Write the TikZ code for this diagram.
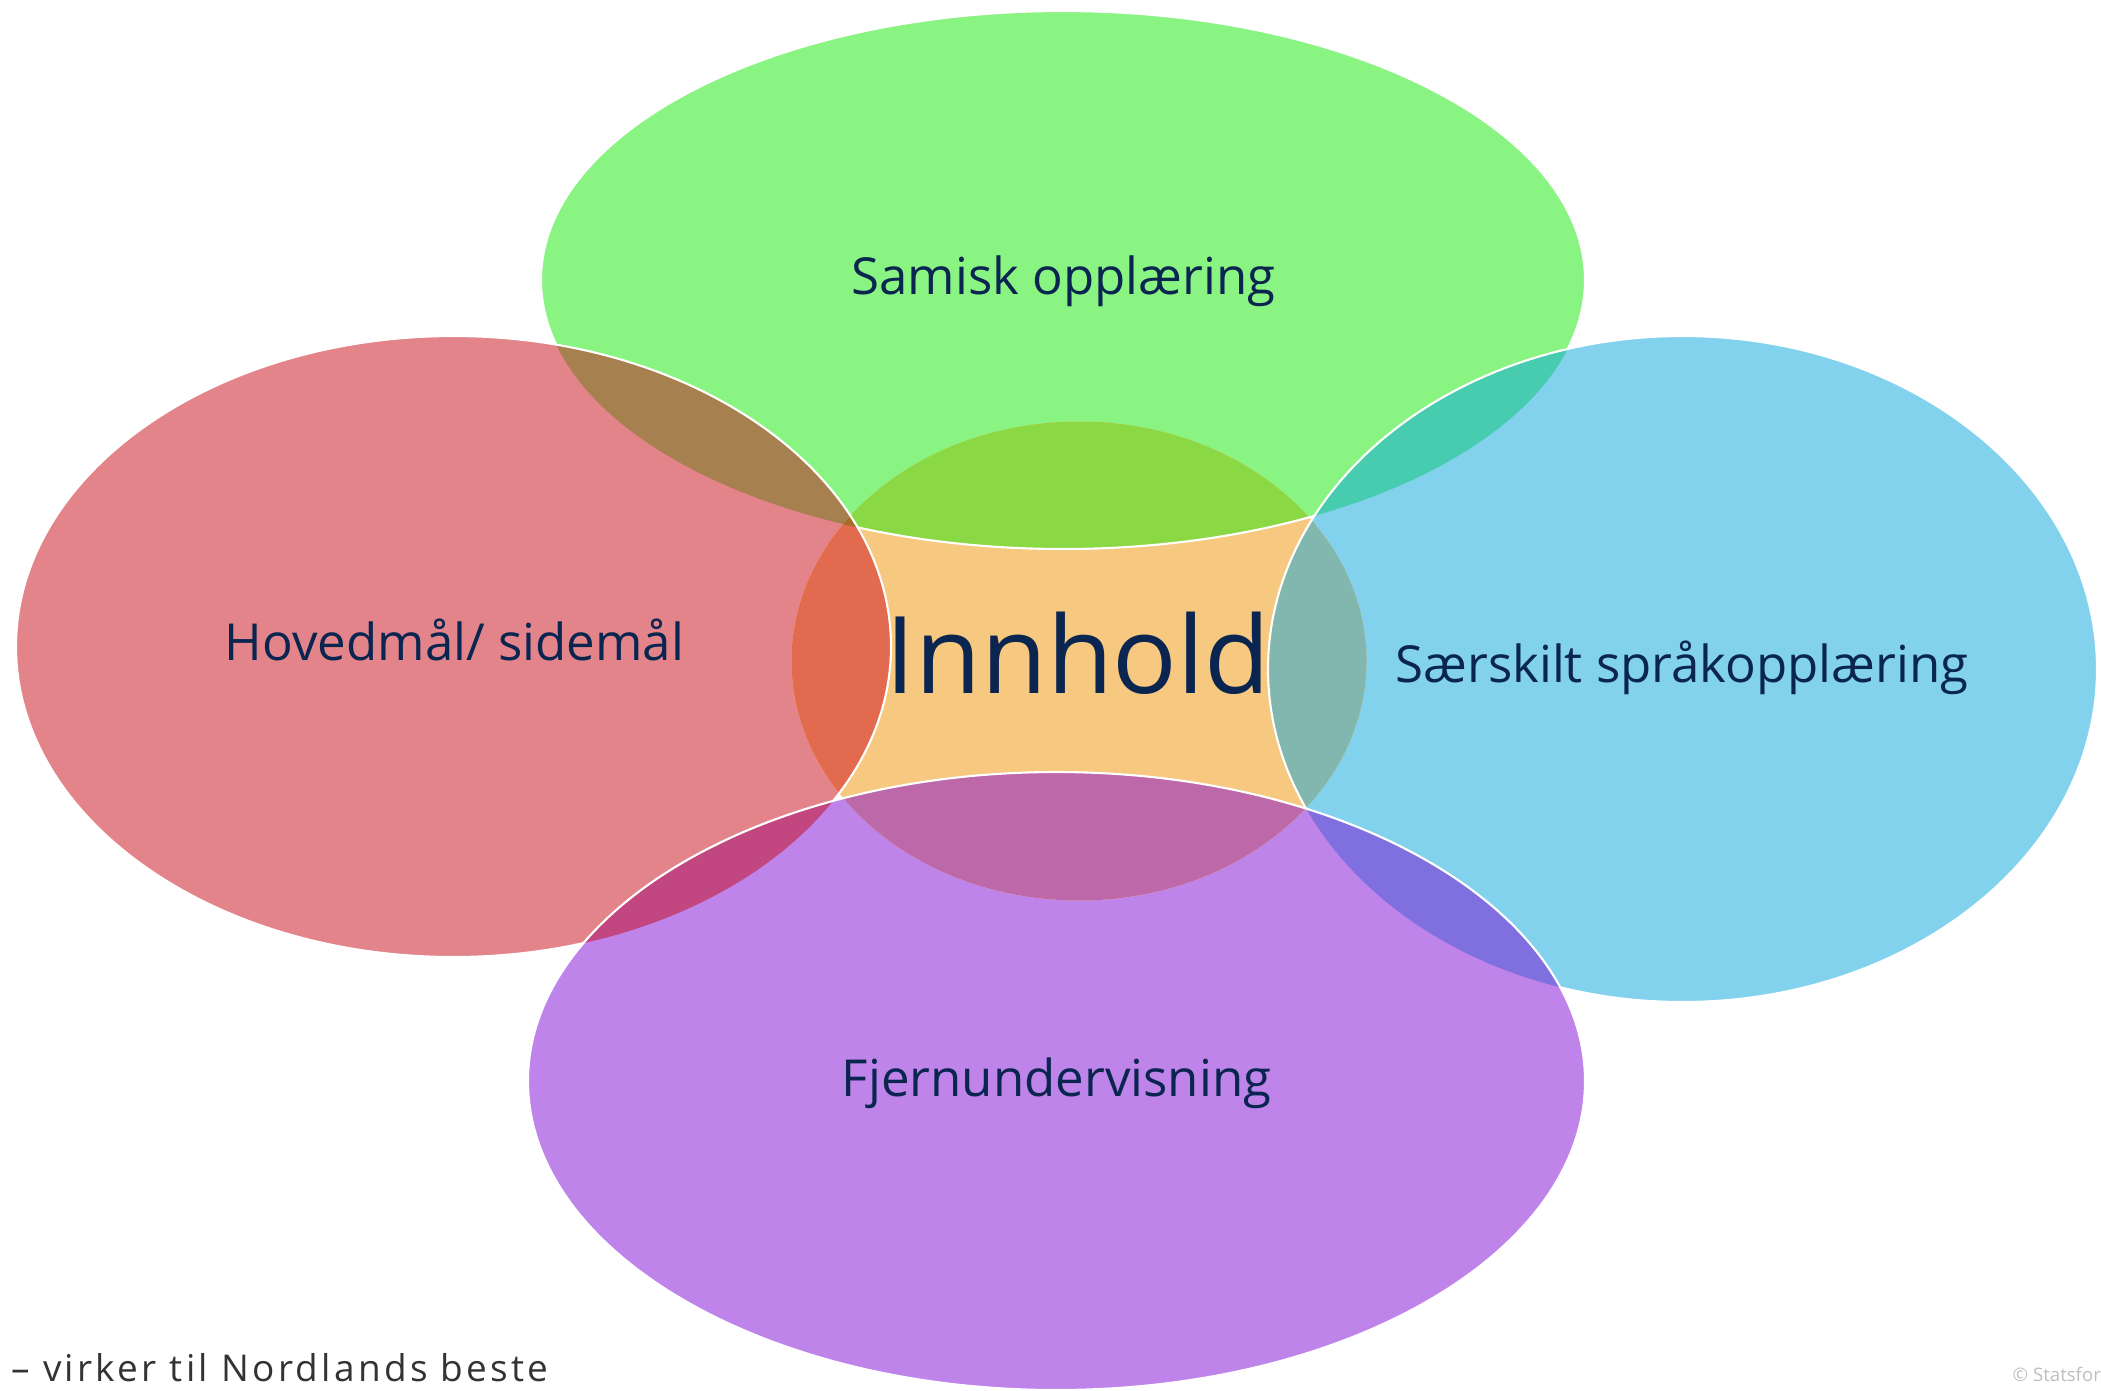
\documentclass[tikz,border=0pt]{standalone}
\usepackage{fontspec}
\setmainfont{Open Sans}
\definecolor{samiskgreen}{HTML}{8AF482}
\definecolor{hovedred}{HTML}{E3848A}
\definecolor{saerblue}{HTML}{82D2EE}
\definecolor{fjernpurple}{HTML}{BE84EA}
\definecolor{innholdorange}{HTML}{F7C880}
\definecolor{samhov}{HTML}{A7804F}
\definecolor{samsaer}{HTML}{48CCB0}
\definecolor{fjhov}{HTML}{C24680}
\definecolor{fjsaer}{HTML}{8070DF}
\definecolor{innsam}{HTML}{8AD844}
\definecolor{innhov}{HTML}{E16A4F}
\definecolor{innsaer}{HTML}{82B7B0}
\definecolor{innfj}{HTML}{BD69A9}
\definecolor{innsamhov}{HTML}{A56C28}
\definecolor{innsamsaer}{HTML}{48B86C}
\definecolor{innfjhov}{HTML}{C0445E}
\definecolor{innfjsaer}{HTML}{7E62A6}
\definecolor{navy}{HTML}{0A2550}
\tikzstyle{lbl} = [text=navy, font=\fontsize{14.5}{17}\selectfont, anchor=base, inner sep=0pt]
\tikzstyle{outline} = [draw=white, line width=0.6pt]
\newcommand{\samiskell}{(1063,280) ellipse [x radius=522, y radius=269]}
\newcommand{\hovedell}{(453.5,646.5) ellipse [x radius=437.5, y radius=310.5]}
\newcommand{\saerell}{(1682.5,669) ellipse [x radius=414.5, y radius=333]}
\newcommand{\fjernell}{(1056.5,1081) ellipse [x radius=528.5, y radius=309]}
\newcommand{\innell}{(1079,661) ellipse [x radius=287.5, y radius=239.5]}
\newcommand{\outside}{(-100,-100) rectangle (2200,1500)}

\begin{document}
\begin{tikzpicture}[x=0.01cm, y=-0.01cm]
	\useasboundingbox (0,0) rectangle (2101,1390);
	\fill [white] (0,0) rectangle (2101,1390);

	\fill [samiskgreen] \samiskell;
	\fill [hovedred] \hovedell;
	\fill [saerblue] \saerell;
	\fill [fjernpurple] \fjernell;

	% overlapp mellom ellipsene
	\begin{scope} \clip \samiskell; \fill [samhov] \hovedell; \fill [samsaer] \saerell; \end{scope}
	\begin{scope} \clip \fjernell; \fill [fjhov] \hovedell; \fill [fjsaer] \saerell; \end{scope}

	\fill [innholdorange] \innell;
	\begin{scope}
		\clip \innell;
		\fill [innsam] \samiskell;
		\fill [innhov] \hovedell;
		\fill [innsaer] \saerell;
		\fill [innfj] \fjernell;
		\begin{scope} \clip \samiskell; \fill [innsamhov] \hovedell; \fill [innsamsaer] \saerell; \end{scope}
		\begin{scope} \clip \fjernell; \fill [innfjhov] \hovedell; \fill [innfjsaer] \saerell; \end{scope}
	\end{scope}

	% hvite kanter
	\begin{scope}[even odd rule]
		\clip \outside \hovedell;
		\clip \outside \saerell;
		\path [outline] \samiskell;
	\end{scope}
	\begin{scope}[even odd rule]
		\clip \outside \fjernell;
		\path [outline] \hovedell;
		\path [outline] \saerell;
	\end{scope}
	\path [outline] \fjernell;

	\node [lbl] (samisk) at (1063.5,294) {Samisk opplæring};
	\node [lbl] (hovedmaal) at (454.5,660) {Hovedmål/ sidemål};
	\node [lbl] (saerskilt) at (1682,682) {Særskilt språkopplæring};
	\node [lbl] (fjern) at (1056.5,1096) {Fjernundervisning};
	\node [lbl, font=\fontsize{30.5}{36}\selectfont] (innhold) at (1078,693) {Innhold};

	\node [anchor=base west, inner sep=0pt, text=black!80, font=\fontsize{10.5}{13}\selectfont\addfontfeatures{LetterSpace=9}] (motto) at (11,1381) {– virker til Nordlands beste};
	\node [anchor=base west, inner sep=0pt, text=black!25, font=\fontsize{5.3}{6}\selectfont] (copy) at (2012,1381) {© Statsforv};
\end{tikzpicture}
\end{document}
